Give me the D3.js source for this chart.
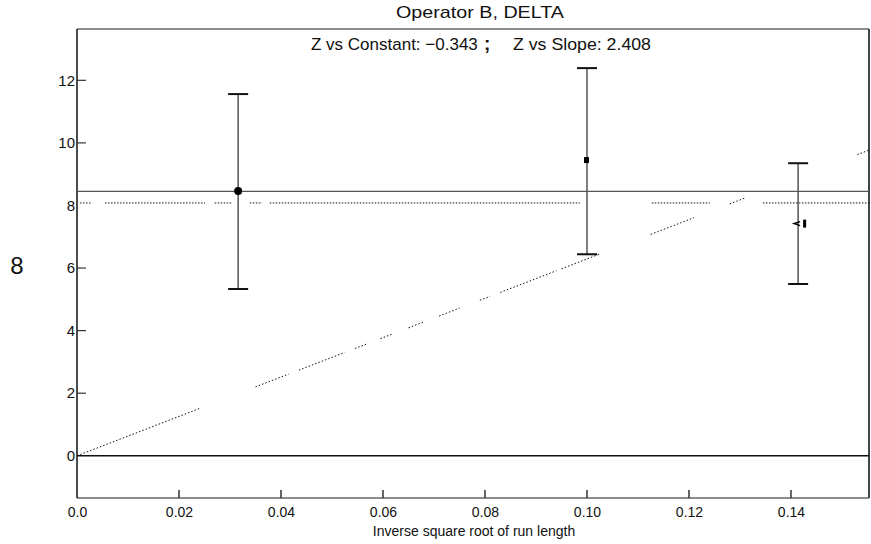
<!DOCTYPE html>
<html>
<head>
<meta charset="utf-8">
<script src="https://cdn.jsdelivr.net/npm/d3@7"></script>
<style>
  html, body { margin: 0; padding: 0; background: #fff; }
  svg { display: block; font-family: "Liberation Sans", Arial, sans-serif; }
</style>
</head>
<body>
<svg id="chart" width="871" height="544"></svg>
<script>
// Measurements: inverse square root of run length vs. observed value
const runX      = [0.0316, 0.1000, 0.1414];
const runValue  = [8.46, 9.45, 7.42];
const errLow    = [5.33, 6.44, 5.49];
const errHigh   = [11.56, 12.39, 9.35];
const meanValue = 8.45;

// Fitted models: constant level and straight line through the origin
const constantFit = 8.08;
const slopeFit = 62.9;
// visible pieces of the dotted fit lines (x ranges)
const constantPieces = [[0.0006, 0.0029], [0.0055, 0.0251], [0.0270, 0.0304],
                        [0.0339, 0.0363], [0.0378, 0.0986], [0.1127, 0.1241],
                        [0.1345, 0.1553]];
const slopePieces = [[0.0, 0.0240], [0.0350, 0.0415], [0.0435, 0.0525],
                     [0.0545, 0.0570], [0.0595, 0.0620], [0.0650, 0.0680],
                     [0.0710, 0.0750], [0.0790, 0.0810], [0.0830, 0.0940],
                     [0.0950, 0.1025], [0.1125, 0.1210], [0.1280, 0.1310],
                     [0.1530, 0.1553]];

const xTicks = [0, 0.02, 0.04, 0.06, 0.08, 0.10, 0.12, 0.14];
const xTickLabels = ["0.0", "0.02", "0.04", "0.06", "0.08", "0.10", "0.12", "0.14"];
const yTicks = [0, 2, 4, 6, 8, 10, 12];
const yTickMarks = [2, 4, 6, 10, 12];

const titleText = "Operator B, DELTA";
const subLeft = "Z vs Constant: \u22120.343";
const subSep = ";";
const subRight = "Z vs Slope: 2.408";
const xTitle = "Inverse square root of run length";
const yTitle = "8";

const svg = d3.select("#chart");
const L = 77, R = 869, T = 29, B = 498;

const x = d3.scaleLinear().domain([0, 0.1553]).range([L, R]);
const y = d3.scaleLinear().domain([-1.35, 13.64]).range([B, T]);

// titles
svg.append("text").attr("x", 396).attr("y", 18)
  .attr("font-size", 17).attr("fill", "#111")
  .attr("textLength", 168).attr("lengthAdjust", "spacingAndGlyphs")
  .text(titleText);
svg.append("text").attr("x", 311).attr("y", 50)
  .attr("font-size", 17).attr("fill", "#111").text(subLeft);
svg.append("text").attr("x", 484).attr("y", 50)
  .attr("font-size", 19).attr("font-weight", "bold").attr("fill", "#111").text(subSep);
svg.append("text").attr("x", 513).attr("y", 50)
  .attr("font-size", 17).attr("fill", "#111")
  .attr("textLength", 138).attr("lengthAdjust", "spacingAndGlyphs")
  .text(subRight);

// frame
svg.append("line").attr("x1", L).attr("x2", R).attr("y1", T).attr("y2", T)
  .attr("stroke", "#666").attr("stroke-width", 1.5);
svg.append("line").attr("x1", L).attr("x2", R).attr("y1", B).attr("y2", B)
  .attr("stroke", "#666").attr("stroke-width", 1.5);
svg.append("line").attr("x1", R).attr("x2", R).attr("y1", T).attr("y2", B)
  .attr("stroke", "#444").attr("stroke-width", 2);
svg.append("line").attr("x1", L).attr("x2", L).attr("y1", T).attr("y2", B)
  .attr("stroke", "#111").attr("stroke-width", 1.5);

// x axis
const xAxis = d3.axisBottom(x).tickValues(xTicks).tickSize(0).tickPadding(9)
  .tickFormat((d, i) => xTickLabels[i]);
const gx = svg.append("g").attr("transform", `translate(0,${B})`).call(xAxis);
gx.select(".domain").remove();
gx.selectAll("text").attr("font-size", 14).attr("fill", "#111")
  .attr("font-family", "Liberation Sans, Arial, sans-serif");
svg.append("g").selectAll("line").data(xTicks.slice(1)).join("line")
  .attr("x1", d => x(d)).attr("x2", d => x(d))
  .attr("y1", B).attr("y2", B - 8)
  .attr("stroke", "#333").attr("stroke-width", 1.5);

svg.append("text").attr("x", 474).attr("y", 536).attr("text-anchor", "middle")
  .attr("font-size", 14).attr("fill", "#111").text(xTitle);

// y axis
const yAxis = d3.axisLeft(y).tickValues(yTicks).tickSize(0).tickPadding(2);
const gy = svg.append("g").attr("transform", `translate(${L},0)`).call(yAxis);
gy.select(".domain").remove();
gy.selectAll("text").attr("font-size", 15).attr("fill", "#111")
  .attr("font-family", "Liberation Sans, Arial, sans-serif");
svg.append("g").selectAll("line").data(yTickMarks).join("line")
  .attr("x1", L).attr("x2", L + 9)
  .attr("y1", d => y(d)).attr("y2", d => y(d))
  .attr("stroke", "#333").attr("stroke-width", 1.2);

svg.append("text").attr("x", 17).attr("y", 274).attr("text-anchor", "middle")
  .attr("font-size", 24).attr("fill", "#111").text(yTitle);

// zero line
svg.append("line").attr("x1", L).attr("x2", R).attr("y1", y(0)).attr("y2", y(0))
  .attr("stroke", "#111").attr("stroke-width", 1.6);

// mean line
svg.append("line").attr("x1", L).attr("x2", R)
  .attr("y1", y(meanValue)).attr("y2", y(meanValue))
  .attr("stroke", "#555").attr("stroke-width", 1.3);

// dotted fits
svg.append("g").selectAll("line").data(constantPieces).join("line")
  .attr("x1", d => x(d[0])).attr("x2", d => x(d[1]))
  .attr("y1", y(constantFit)).attr("y2", y(constantFit))
  .attr("stroke", "#111").attr("stroke-width", 1).attr("stroke-dasharray", "1.5,1.5");
svg.append("g").selectAll("line").data(slopePieces).join("line")
  .attr("x1", d => x(d[0])).attr("x2", d => x(d[1]))
  .attr("y1", d => y(slopeFit * d[0])).attr("y2", d => y(slopeFit * d[1]))
  .attr("stroke", "#111").attr("stroke-width", 1).attr("stroke-dasharray", "1.5,2");

// error bars
const pts = runX.map((v, i) => ({ x: v, v: runValue[i], lo: errLow[i], hi: errHigh[i] }));
const eb = svg.append("g");
eb.selectAll("line.bar").data(pts).join("line").attr("class", "bar")
  .attr("x1", d => x(d.x)).attr("x2", d => x(d.x))
  .attr("y1", d => y(d.lo)).attr("y2", d => y(d.hi))
  .attr("stroke", "#555").attr("stroke-width", 1.5);
eb.selectAll("line.capHi").data(pts).join("line").attr("class", "capHi")
  .attr("x1", d => x(d.x) - 10).attr("x2", d => x(d.x) + 10)
  .attr("y1", d => y(d.hi)).attr("y2", d => y(d.hi))
  .attr("stroke", "#111").attr("stroke-width", 2);
eb.selectAll("line.capLo").data(pts).join("line").attr("class", "capLo")
  .attr("x1", d => x(d.x) - 10).attr("x2", d => x(d.x) + 10)
  .attr("y1", d => y(d.lo)).attr("y2", d => y(d.lo))
  .attr("stroke", "#111").attr("stroke-width", 2);

// markers
const m = svg.append("g");
m.append("circle").attr("cx", x(pts[0].x)).attr("cy", y(pts[0].v)).attr("r", 4).attr("fill", "#000");
m.append("rect").attr("x", x(pts[1].x) - 3).attr("y", y(pts[1].v) - 3)
  .attr("width", 5).attr("height", 6).attr("fill", "#000");
m.append("path")
  .attr("d", `M${x(pts[2].x) + 2},${y(pts[2].v) - 2} L${x(pts[2].x) - 4},${y(pts[2].v)} L${x(pts[2].x) + 2},${y(pts[2].v) + 2}`)
  .attr("fill", "none").attr("stroke", "#000").attr("stroke-width", 1.5);
m.append("rect").attr("x", x(pts[2].x) + 5).attr("y", y(pts[2].v) - 4)
  .attr("width", 3).attr("height", 8).attr("fill", "#000");
</script>
</body>
</html>
